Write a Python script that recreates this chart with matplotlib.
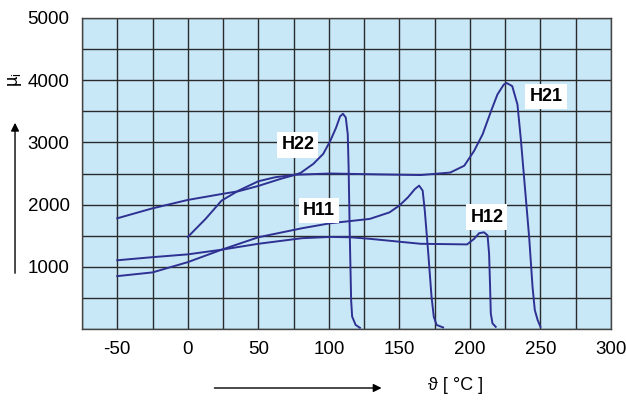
import matplotlib.pyplot as plt

plt.rcParams['font.family'] = ['Liberation Sans', 'DejaVu Sans']
plt.rcParams['axes.unicode_minus'] = False

# temperature (°C) / initial permeability readings per material
h22_t = [-50, -25, 0, 24, 36, 50, 66, 74, 80, 89, 96, 101, 105, 108, 110, 112, 113.4, 114, 114.8, 115.8, 116.5, 119, 122]
h22_mu = [1780, 1940, 2075, 2170, 2215, 2300, 2415, 2465, 2510, 2655, 2815, 3025, 3230, 3420, 3460, 3400, 3130, 2600, 1540, 460, 200, 65, 20]

h21_t = [0, 12.6, 24, 36, 50, 62, 76, 101, 137, 165, 186, 196, 203, 209, 215, 219.5, 224, 226, 230, 233.7, 236, 239, 242, 244.4, 246, 248, 250]
h21_mu = [1480, 1770, 2065, 2225, 2375, 2440, 2480, 2500, 2485, 2475, 2515, 2625, 2865, 3130, 3505, 3770, 3930, 3955, 3905, 3610, 3075, 2275, 1475, 675, 305, 145, 35]

h11_t = [-50, -25, 0, 24, 50, 81, 101, 129, 143, 150, 156, 161, 164, 166.5, 168, 170.5, 172.8, 174.4, 176.4, 181]
h11_mu = [850, 910, 1075, 1275, 1475, 1620, 1700, 1770, 1875, 1985, 2115, 2250, 2305, 2225, 1905, 1210, 515, 195, 65, 25]

h12_t = [-50, -25, 0, 24, 50, 81, 101, 115, 129, 165, 198, 203, 206.5, 210, 212.5, 213.6, 214.3, 214.8, 216, 218.3]
h12_mu = [1105, 1155, 1200, 1275, 1370, 1460, 1480, 1475, 1450, 1370, 1360, 1450, 1540, 1555, 1505, 1210, 675, 250, 90, 35]

labels = ['H22', 'H21', 'H11', 'H12']
label_t = [78, 254, 93, 212]
label_mu = [2960, 3740, 1900, 1800]

x_ticks = [-50, 0, 50, 100, 150, 200, 250, 300]
y_ticks = [1000, 2000, 3000, 4000, 5000]

line_color = '#2e3192'

fig = plt.figure(figsize=(6.26, 4.0), dpi=100)
ax = fig.add_axes([0.131, 0.1775, 0.845, 0.7775])
ax.set_facecolor('#c8e8f8')

for t, mu in [(h22_t, h22_mu), (h21_t, h21_mu), (h11_t, h11_mu), (h12_t, h12_mu)]:
    ax.plot(t, mu, color=line_color, lw=1.4, zorder=3, solid_joinstyle='round')

for name, t, mu in zip(labels, label_t, label_mu):
    ax.text(t, mu, name, ha='center', va='center', fontsize=13, fontweight='bold',
            bbox=dict(facecolor='white', edgecolor='none', pad=3.0), zorder=4)

ax.set_xlim(-75, 300)
ax.set_ylim(0, 5000)
ax.set_xticks(range(-75, 301, 25), minor=True)
ax.set_yticks(range(0, 5001, 500), minor=True)
ax.set_xticks(x_ticks)
ax.set_yticks(y_ticks)
ax.grid(True, which='both', color='#2a2a2a', lw=1.0, zorder=1)
ax.set_axisbelow(True)
ax.tick_params(which='both', length=0, labelsize=13.5, pad=9)
for s in ax.spines.values():
    s.set_color('#444444')
    s.set_linewidth(1.0)

# axis captions with direction arrows
fig.text(0.024, 0.80, r'µ$_\mathregular{i}$', rotation=90, ha='center', va='center', fontsize=13)
fig.add_artist(plt.Annotation('', xy=(0.024, 0.70), xytext=(0.024, 0.31),
                              xycoords='figure fraction',
                              arrowprops=dict(arrowstyle='-|>', color='black', lw=1.0, mutation_scale=12)))
fig.text(0.727, 0.035, 'ϑ [ °C ]', ha='center', va='center', fontsize=13)
fig.add_artist(plt.Annotation('', xy=(0.614, 0.03), xytext=(0.338, 0.03),
                              xycoords='figure fraction',
                              arrowprops=dict(arrowstyle='-|>', color='black', lw=1.0, mutation_scale=12)))

fig.savefig('out.png', dpi=100)
